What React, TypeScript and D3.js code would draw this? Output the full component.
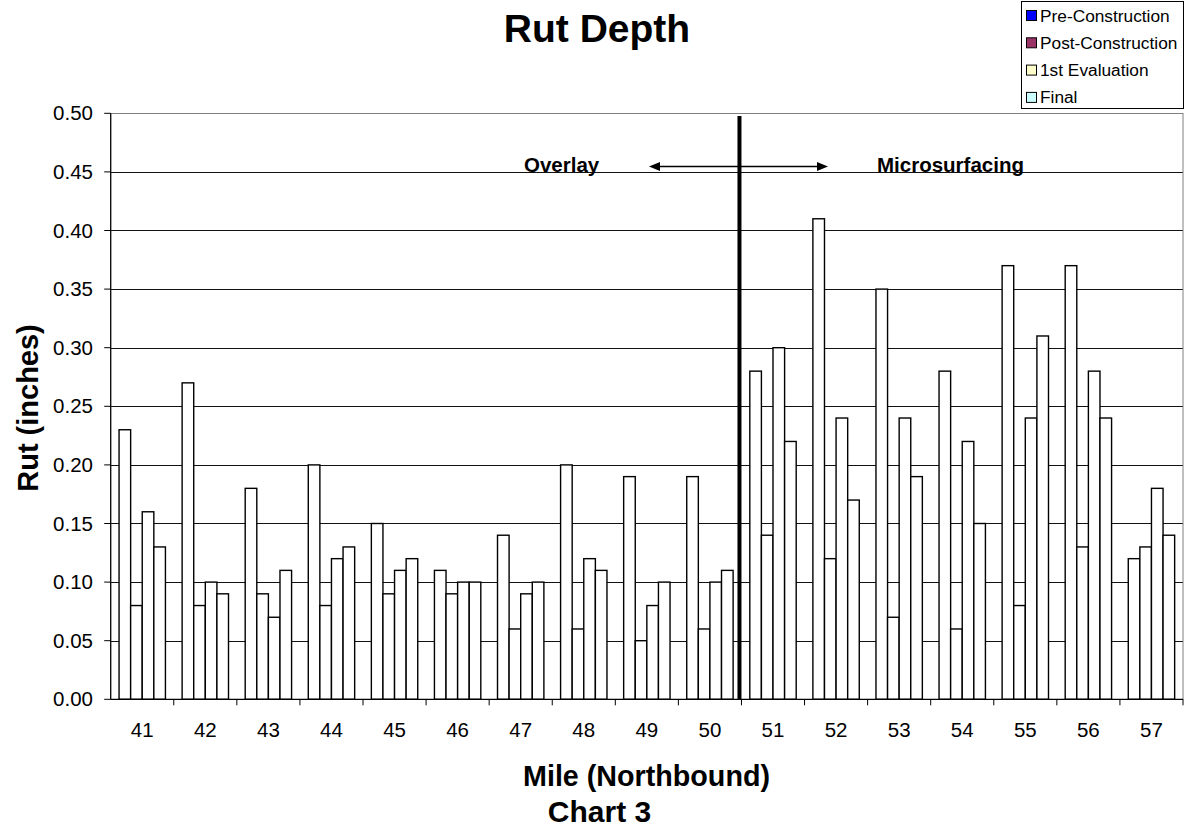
import React from "react";
import * as d3 from "d3";

const miles = ["41","42","43","44","45","46","47","48","49","50","51","52","53","54","55","56","57"];
const preConstruction = [0.23,0.27,0.18,0.20,0.15,0.11,0.14,0.20,0.19,0.19,0.28,0.41,0.35,0.28,0.37,0.37,0.12];
const postConstruction = [0.08,0.08,0.09,0.08,0.09,0.09,0.06,0.06,0.05,0.06,0.14,0.12,0.07,0.06,0.08,0.13,0.13];
const firstEvaluation = [0.16,0.10,0.07,0.12,0.11,0.10,0.09,0.12,0.08,0.10,0.30,0.24,0.24,0.22,0.24,0.28,0.18];
const finalEval = [0.13,0.09,0.11,0.13,0.12,0.10,0.10,0.11,0.10,0.11,0.22,0.17,0.19,0.15,0.31,0.24,0.14];
const seriesNames = ["Pre-Construction","Post-Construction","1st Evaluation","Final"];
const legendColors = ["#0000FF","#993366","#FFFFCC","#CCFFFF"];
const yTicks = [0,0.05,0.1,0.15,0.2,0.25,0.3,0.35,0.4,0.45,0.5];
const dividerBefore = "51";

const FONT = "'Liberation Sans', Arial, Helvetica, sans-serif";

export default function App() {
  const W = 1185, H = 830;
  const left = 110.7, right = 1183, top = 113.3, bottom = 699.3;
  const series = [preConstruction, postConstruction, firstEvaluation, finalEval];
  const x = d3.scaleBand<string>().domain(miles).range([left, right]).paddingInner(0).paddingOuter(0);
  const inner = d3.scaleBand<number>().domain([0,1,2,3]).range([0, x.bandwidth()]).paddingInner(0).paddingOuter(0.72);
  const y = d3.scaleLinear().domain([0, 0.5]).range([bottom, top]);
  const divX = (x(dividerBefore) as number) - 2;
  const arrowY = y(0.45) - 5.5;

  return (
    <svg width={W} height={H} style={{ position: "absolute", left: 0, top: 0, background: "#fff" }} fontFamily={FONT}>
      <rect x={0} y={0} width={W} height={H} fill="#fff" />
      {yTicks.filter(t => t > 0 && t < 0.5).map(t => (
        <line key={t} x1={left} x2={right} y1={Math.round(y(t)) + 0.5} y2={Math.round(y(t)) + 0.5} stroke="#111" strokeWidth={1} />
      ))}
      <rect x={left} y={Math.round(top) + 0.5} width={right - left} height={bottom - top} fill="none" stroke="#808080" strokeWidth={1} />
      {series.map((vals, si) =>
        vals.map((v, i) => {
          const bx = (x(miles[i]) as number) + (inner(si) as number);
          return (
            <rect key={si + "-" + i} x={bx} y={y(v)} width={inner.bandwidth()} height={bottom - y(v)}
              fill="#fff" stroke="#000" strokeWidth={1.4} />
          );
        })
      )}
      <line x1={left} x2={left} y1={top} y2={bottom} stroke="#000" strokeWidth={1.2} />
      <line x1={left} x2={right} y1={bottom} y2={bottom} stroke="#000" strokeWidth={1.2} />
      {yTicks.map(t => (
        <g key={"yt" + t}>
          <line x1={left - 6.5} x2={left} y1={y(t)} y2={y(t)} stroke="#000" strokeWidth={1} />
          <text x={93} y={y(t) + 7} textAnchor="end" fontSize={20.5} fill="#000">{t.toFixed(2)}</text>
        </g>
      ))}
      {miles.map((m) => (
        <g key={"xt" + m}>
          <line x1={(x(m) as number) + x.bandwidth()} x2={(x(m) as number) + x.bandwidth()} y1={bottom} y2={bottom + 6} stroke="#000" strokeWidth={1} />
          <text x={(x(m) as number) + x.bandwidth() / 2} y={737} textAnchor="middle" fontSize={20.5} fill="#000">{m}</text>
        </g>
      ))}
      <line x1={divX} x2={divX} y1={116} y2={bottom} stroke="#000" strokeWidth={4} />
      <line x1={657} x2={820} y1={arrowY} y2={arrowY} stroke="#000" strokeWidth={1.5} />
      <path d={`M649,${arrowY} L660,${arrowY - 4.5} L660,${arrowY + 4.5} Z`} fill="#000" />
      <path d={`M828,${arrowY} L817,${arrowY - 4.5} L817,${arrowY + 4.5} Z`} fill="#000" />
      <text x={524} y={172} fontSize={20.5} fontWeight="bold" fill="#000">Overlay</text>
      <text x={877} y={172} fontSize={20.5} fontWeight="bold" fill="#000">Microsurfacing</text>
      <text x={597} y={42} textAnchor="middle" fontSize={39} fontWeight="bold" fill="#000">Rut Depth</text>
      <text x={646.5} y={786} textAnchor="middle" fontSize={28.7} fontWeight="bold" fill="#000">Mile (Northbound)</text>
      <text x={599.5} y={822} textAnchor="middle" fontSize={30} fontWeight="bold" fill="#000">Chart 3</text>
      <text transform={`translate(38,408) rotate(-90)`} textAnchor="middle" fontSize={29} fontWeight="bold" fill="#000">Rut (inches)</text>
      <rect x={1021.5} y={1.5} width={162} height={107} fill="#fff" stroke="#000" strokeWidth={1} />
      {seriesNames.map((n, i) => (
        <g key={n}>
          <rect x={1026.5} y={10.5 + i * 27.3} width={10} height={10} fill={legendColors[i]} stroke="#000" strokeWidth={1} />
          <text x={1040} y={21.5 + i * 27.3} fontSize={17.3} fill="#000">{n}</text>
        </g>
      ))}
    </svg>
  );
}
